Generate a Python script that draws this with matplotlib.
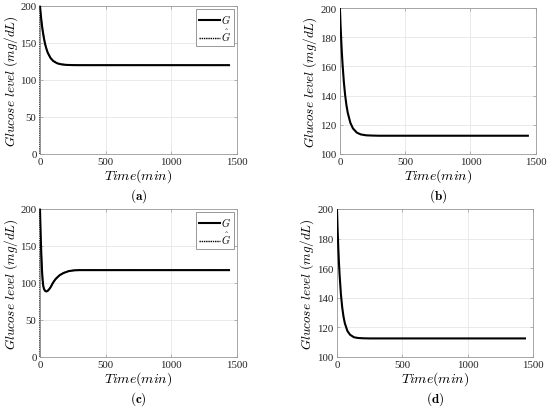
import matplotlib
matplotlib.use("Agg")
import matplotlib.pyplot as plt

plt.rcParams['font.family'] = ['Liberation Serif', 'DejaVu Serif']
plt.rcParams['mathtext.fontset'] = 'cm'

# ---- values (time in min, glucose in mg/dL) ----
t_a = [0, 5, 10, 15, 20, 30, 40, 50, 60, 80, 100, 130, 160, 200, 250, 300, 500, 1000, 1440]
g_a = [200, 190.1, 181.5, 173.9, 167.3, 156.3, 147.9, 141.5, 136.5, 129.8, 125.8, 122.6,
       121.2, 120.4, 120.1, 120, 120, 120, 120]

t_b = [0, 5, 10, 15, 20, 30, 40, 50, 60, 80, 100, 130, 160, 200, 250, 300, 500, 1000, 1440]
g_b = [200, 188.3, 178.2, 169.5, 161.9, 149.6, 140.4, 133.5, 128.3, 121.4, 117.5, 114.6,
       113.4, 112.8, 112.6, 112.5, 112.5, 112.5, 112.5]

t_c = [0, 5, 10, 15, 20, 25, 30, 40, 50, 60, 70, 80, 100, 120, 150, 180, 220, 260, 300, 500, 1000, 1440]
g_c = [200, 165, 139, 118, 104, 96, 92, 89, 88.5, 89.5, 91.5, 94, 100.5, 105.5, 110.5, 113.5,
       116, 117, 117.3, 117.3, 117.3, 117.3]

t_d = [0, 5, 10, 15, 20, 30, 40, 50, 60, 80, 100, 130, 160, 200, 250, 300, 500, 1000, 1440]
g_d = [200, 185.7, 173.7, 163.7, 155.4, 142.5, 133.5, 127.2, 122.8, 117.5, 115, 113.3,
       112.8, 112.6, 112.5, 112.5, 112.5, 112.5, 112.5]

# estimate G-hat starts at 0 and jumps onto G at once
t_a_hat = [0] + t_a
g_a_hat = [0] + g_a
t_c_hat = [0] + t_c
g_c_hat = [0] + g_c

x_ticks = [0, 500, 1000, 1500]
y_ticks_full = [0, 50, 100, 150, 200]
y_ticks_zoom = [100, 120, 140, 160, 180, 200]

fig = plt.figure(figsize=(5.5, 4.1), dpi=100)

panels = [
    ([0.0727, 0.622, 0.358, 0.361], t_a, g_a, t_a_hat, g_a_hat, (0, 200), y_ticks_full, 'a'),
    ([0.618, 0.622, 0.356, 0.356], t_b, g_b, None, None, (100, 200), y_ticks_zoom, 'b'),
    ([0.0727, 0.127, 0.358, 0.361], t_c, g_c, t_c_hat, g_c_hat, (0, 200), y_ticks_full, 'c'),
    ([0.6127, 0.127, 0.356, 0.361], t_d, g_d, None, None, (100, 200), y_ticks_zoom, 'd'),
]

for pos, tt, gg, th, gh, ylim, yt, tag in panels:
    ax = fig.add_axes(pos)
    ax.plot(tt, gg, color='black', lw=1.5, label=r'$G$', zorder=3)
    if th is not None:
        ax.plot(th, gh, color='black', lw=1.0, ls=(0, (1, 0.6)), label=r'$\hat{G}$',
                zorder=2, clip_on=False)
        leg = ax.legend(loc='upper right', fontsize=7.5, handlelength=2.0,
                        handletextpad=0.1, borderpad=0.3, labelspacing=0.2,
                        fancybox=False, framealpha=1, borderaxespad=0.3)
        leg.get_frame().set_edgecolor('#888888')
        leg.get_frame().set_linewidth(0.6)
    ax.set_xlim(0, 1500)
    ax.set_ylim(*ylim)
    ax.set_xticks(x_ticks)
    ax.set_yticks(yt)
    ax.grid(True, color='#e6e6e6', lw=0.6)
    ax.set_axisbelow(True)
    for s in ax.spines.values():
        s.set_color('#999999')
        s.set_linewidth(0.6)
    ax.tick_params(direction='in', length=2, width=0.5, color='#999999',
                   labelsize=7.8, pad=2.5, top=True, right=True, labelcolor='#222222')
    ax.set_xlabel(r'$Time(min)$', fontsize=10, labelpad=0)
    ax.set_ylabel(r'$Glucose\ level\ (mg/dL)$', fontsize=9.5, labelpad=0.5)
    ax.text(0.5, -0.28, r'$(\mathbf{' + tag + '})$', transform=ax.transAxes,
            ha='center', va='center', fontsize=9.5)

fig.savefig('out.png', dpi=100)
